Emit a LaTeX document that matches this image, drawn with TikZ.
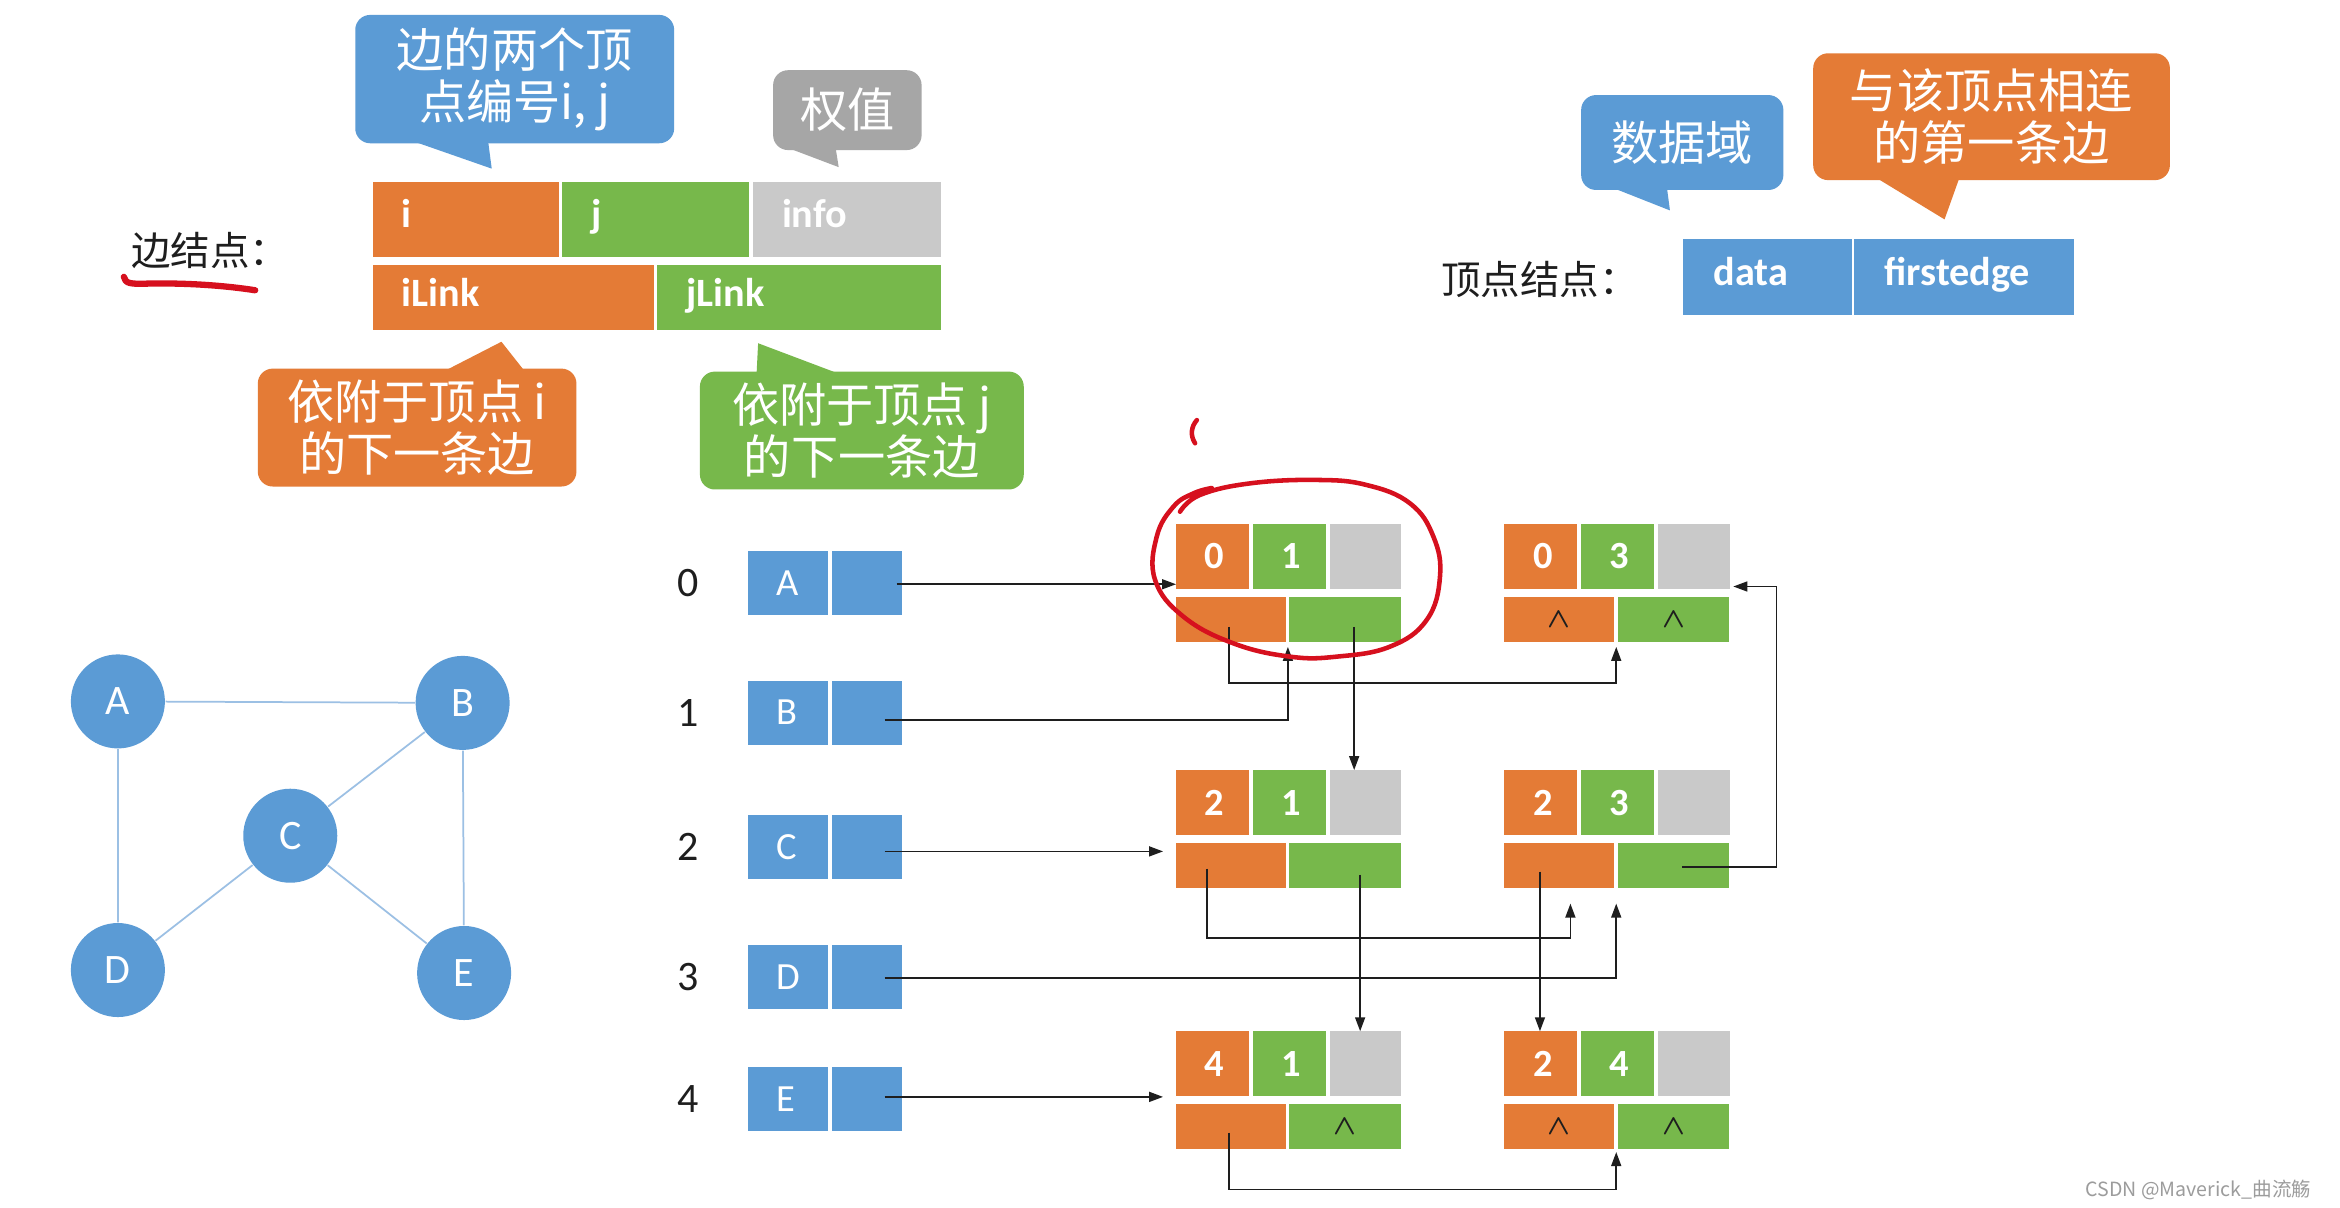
\documentclass[tikz,border=0pt]{standalone}
\usepackage{fontspec}
\setmainfont{Carlito}
\newfontfamily\cjk{Noto Sans CJK SC}
\usetikzlibrary{arrows.meta,positioning,calc}
\definecolor{ora}   {HTML}{E47B36}
\definecolor{grn}   {HTML}{77B84B}
\definecolor{gry}   {HTML}{C9C9C9}
\definecolor{blu}   {HTML}{5B9BD5}
\definecolor{tipgry}{HTML}{A6A6A6}
\definecolor{gline} {HTML}{9CC0E4}
\definecolor{pen}   {HTML}{D6101E}
\definecolor{ink}   {HTML}{1E1E1E}
\definecolor{wmark} {HTML}{9C9C9C}

\begin{document}
\begin{tikzpicture}[x=0.015cm,y=-0.015cm,
  box/.style={anchor=north west,inner sep=0pt,outer sep=0pt},
  fld/.style={anchor=west,xshift=0.17cm,text=white,text height=0.68em,text depth=0.18em,
    font=\bfseries\fontsize{11.5}{12}\selectfont},
  num/.style={anchor=west,xshift=0.165cm,text=white,font=\bfseries\fontsize{11}{11}\selectfont},
  nul/.style={inner sep=0pt,text=ink,font=\fontsize{8.5}{8.5}\selectfont\boldmath},
  tip/.style={rounded corners=0.15cm,inner sep=0pt,text=white,align=center,
    font=\cjk\fontsize{13.5}{15}\selectfont},
  gv/.style={circle,fill=blu,minimum size=0.945cm,inner sep=0pt,text=white,
    font=\fontsize{12}{12}\selectfont},
  gedge/.style={draw=gline,line width=0.5pt},
  arr/.style={draw=ink,line width=0.45pt,-{Triangle[length=0.14cm,width=0.1cm]}},
  redpen/.style={draw=pen,line cap=round,line join=round}]

  \fill[white] (0,0) rectangle (1568,809);
  \useasboundingbox (0,0) rectangle (1568,809);

  % edge node layout
  \node[font=\cjk\fontsize{11.3}{12}\selectfont,text=ink] (lEdge) at (141,168) {边结点：};
  \node[box,fill=ora,minimum width=1.875cm,minimum height=0.755cm] (fi) at (249.7,121.7) {};
  \node[box,fill=grn,minimum width=1.875cm,minimum height=0.755cm] (fj) at (376.7,121.7) {};
  \node[box,fill=gry,minimum width=1.893cm,minimum height=0.755cm] (finfo) at (504.4,121.7) {};
  \node[box,fill=ora,minimum width=2.83cm,minimum height=0.651cm] (filink) at (249.7,177.6) {};
  \node[box,fill=grn,minimum width=2.855cm,minimum height=0.651cm] (fjlink) at (440.3,177.6) {};
  \node[fld] at (fi.west) {i};
  \node[fld] at (fj.west) {j};
  \node[fld] at (finfo.west) {info};
  \node[fld] at (filink.west) {iLink};
  \node[fld] at (fjlink.west) {jLink};

  % callouts
  \node[tip,fill=blu,minimum width=3.2055cm,minimum height=1.29cm] (cEnds) at (344.9,53) {边的两个顶\\点编号i, j};
  \fill[blu] (275,94) -- (329.5,113) -- (327,94) -- cycle;
  \node[tip,fill=tipgry,minimum width=1.4925cm,minimum height=0.8025cm] (cInfo) at (567.8,73.8) {权值};
  \fill[tipgry] (529,99.5) -- (562,112) -- (560,99.5) -- cycle;
  \node[tip,fill=ora,minimum width=3.2025cm,minimum height=1.185cm] (cILink) at (279.5,286.5) {依附于顶点 i\\的下一条边};
  \fill[ora] (299,248) -- (336,229) -- (351,248) -- cycle;
  \node[tip,fill=grn,minimum width=3.255cm,minimum height=1.185cm] (cJLink) at (577.5,288.5) {依附于顶点 j\\的下一条边};
  \fill[grn] (507,250) -- (508,230) -- (561,250) -- cycle;

  % vertex node layout
  \node[font=\cjk\fontsize{11.3}{12}\selectfont,text=ink] (lVert) at (1032,187.5) {顶点结点：};
  \node[box,fill=blu,minimum width=1.69cm,minimum height=0.765cm] (vdata) at (1128,160) {};
  \node[box,fill=blu,minimum width=2.207cm,minimum height=0.765cm] (vfirst) at (1242.4,160) {};
  \node[fld,xshift=0.01cm] at (vdata.west) {data};
  \node[fld,xshift=0.01cm] at (vfirst.west) {firstedge};
  \node[tip,fill=blu,minimum width=2.0325cm,minimum height=0.954cm] (cData) at (1127.25,95.5) {数据域};
  \fill[blu] (1081,126) -- (1119,141) -- (1117,126) -- cycle;
  \node[tip,fill=ora,minimum width=3.585cm,minimum height=1.275cm] (cFirst) at (1334.5,78.2) {与该顶点相连\\的第一条边};
  \fill[ora] (1257,119) -- (1303,147) -- (1313,119) -- cycle;

  % the graph
  \foreach \vx/\x/\y in {A/79/470,B/310/471,C/194.5/560,D/79/650,E/311/652}
    \node[gv] (g\vx) at (\x,\y) {\vx};
  \draw[gedge] (gA) -- (gB) (gA) -- (gD) (gB) -- (gE)
               (gB) -- (gC) (gC) -- (gD) (gC) -- (gE);

  % vertex table
  \foreach \vx/\k/\y in {A/0/369,B/1/456,C/2/546,D/3/633,E/4/715}{
    \node[box,fill=blu,minimum width=0.81cm,minimum height=0.645cm] (d\vx) at (501,\y) {};
    \node[box,fill=blu,minimum width=0.70cm,minimum height=0.645cm] (p\vx) at (557.5,\y) {};
    \node[anchor=west,xshift=0.165cm,text=white,font=\fontsize{11}{11}\selectfont] at (d\vx.west) {\vx};
    \node[text=ink,font=\fontsize{12}{12}\selectfont] at (461,\y+21.5) {\k};
  }

  % edge nodes
  \foreach \nm/\x/\y/\fa/\fb in {e01/788/351/0/1,e03/1008/351/0/3,e21/788/516/2/1,
                                 e23/1008/516/2/3,e41/788/691/4/1,e24/1008/691/2/4}{
    \node[box,fill=ora,minimum width=0.735cm,minimum height=0.6525cm] (\nm-i) at (\x,\y) {};
    \node[box,fill=grn,minimum width=0.735cm,minimum height=0.6525cm] (\nm-j) at (\x+51.5,\y) {};
    \node[box,fill=gry,minimum width=0.72cm,minimum height=0.6525cm] (\nm-w) at (\x+103,\y) {};
    \node[box,fill=ora,minimum width=1.107cm,minimum height=0.45cm] (\nm-il) at (\x,\y+49) {};
    \node[box,fill=grn,minimum width=1.122cm,minimum height=0.45cm] (\nm-jl) at (\x+76,\y+49) {};
    \node[num] at (\nm-i.west) {\fa};
    \node[num] at (\nm-j.west) {\fb};
  }
  \foreach \c in {e03-il,e03-jl,e41-jl,e24-il,e24-jl}
    \node[nul] at (\c) {$\wedge$};

  % firstedge pointers
  \coordinate (sA) at ($(pA)+(20,1)$);
  \coordinate (sB) at ($(pB)+(12,5)$);
  \coordinate (sC) at ($(pC)+(12,3)$);
  \coordinate (sD) at ($(pD)+(12,1)$);
  \coordinate (sE) at ($(pE)+(12,-1.5)$);
  \draw[arr] (sA) -- (sA -| e01-i.west);
  \draw[arr] (sB) -| ($(e01-il.south east)+(1.2,3.5)$);
  \draw[arr,shorten >=0.13cm] (sC) -- (sC -| e21-il.west);
  \draw[arr] (sD) -| ($(e23-il.south east)+(1.2,10.5)$);
  \draw[arr,shorten >=0.13cm] (sE) -- (sE -| e41-i.west);

  % iLink / jLink chains
  \coordinate (l01i) at ($(e01-il)+(-1.5,5)$);
  \coordinate (l01j) at ($(e01-jl)+(6,5)$);
  \coordinate (l21i) at ($(e21-il)+(-16,2)$);
  \coordinate (l21j) at ($(e21-jl)+(10,6)$);
  \coordinate (l23i) at ($(e23-il)+(-13,4)$);
  \coordinate (l23j) at ($(e23-jl)+(6,1)$);
  \coordinate (l41i) at ($(e41-il)+(-1.5,4)$);
  \draw[arr] (l01i) |- ($(e03-il.south east)+(1.2,27.5)$) -- ($(e03-il.south east)+(1.2,3.5)$);
  \draw[arr] (l01j) -- (l01j |- e21-w.north);
  \draw[arr] (l21i) |- ($(e23-il.south)+(7.4,33.5)$) -- ($(e23-il.south)+(7.4,10.5)$);
  \draw[arr] (l21j) -- (l21j |- e41-w.north);
  \draw[arr] (l23i) -- (l23i |- e24-i.north);
  \draw[arr] (l23j) -| ($(e03-w.south east)+(31.5,-1.5)$) -- ($(e03-w.south east)+(2.5,-1.5)$);
  \draw[arr] (l41i) |- ($(e24-il.south east)+(1.2,27)$) -- ($(e24-il.south east)+(1.2,2)$);

  % red pen marks
  \draw[redpen,line width=1.8pt] (83,185.5) .. controls (84,190) and (87,190.5) .. (100,190)
    .. controls (130,189.5) and (155,192) .. (171,194.5);
  \draw[redpen,line width=1.3pt] plot[smooth,tension=0.7] coordinates {(790.7,342.9) (804,331.7)
    (837.6,323.9) (882.3,321.6) (915.8,325) (944.8,337.3) (960.5,359.6) (964.9,386.4) (956,415.4)
    (931.4,433.3) (895.7,440) (864.4,440) (826.5,431.1) (793,413.2) (774,388.6) (775.1,359.6)
    (786.3,339.5) (799.7,330.6) (812,327)};
  \draw[redpen,line width=1.3pt] (802,281.5) .. controls (798,286) and (797.5,292) .. (800.8,297);

  \node[anchor=east,text=wmark,font=\cjk\fontsize{5.6}{6}\selectfont] (wm) at (1557,797.5) {CSDN @Maverick\_曲流觞};
\end{tikzpicture}
\end{document}
